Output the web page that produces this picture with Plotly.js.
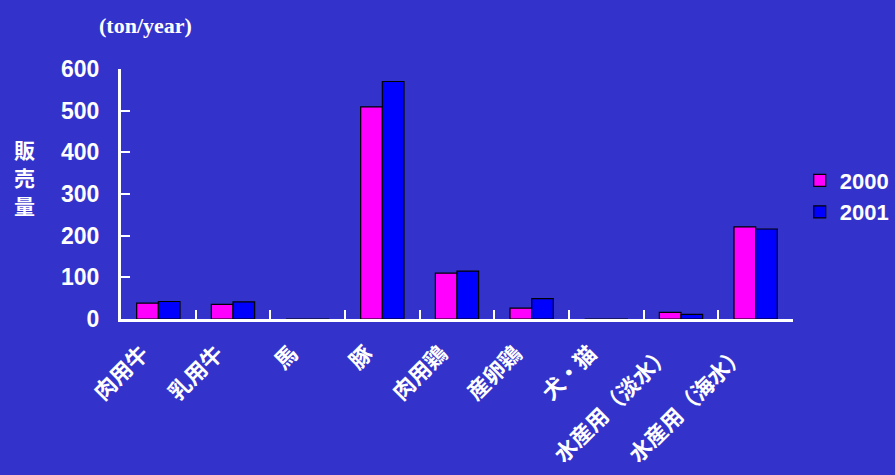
<!DOCTYPE html>
<html><head><meta charset="utf-8">
<script src="https://cdn.plot.ly/plotly-3.0.1.min.js"></script>
<style>html,body{margin:0;padding:0;background:#3333CC;}</style>
</head><body>
<div id="chart" style="width:895px;height:475px;"></div>
<script>
const categories = ["肉用牛","乳用牛","馬","豚","肉用鶏","産卵鶏","犬・猫","水産用（淡水）","水産用（海水）"];
const values2000 = [38, 35, 0, 509, 110, 26, 0, 16, 221];
const values2001 = [42, 41, 0, 570, 115, 49, 0, 11, 216];
const seriesNames = ["2000", "2001"];
const yTicks = [0, 100, 200, 300, 400, 500, 600];
const yTitleChars = ["販", "売", "量"];

const font = "Liberation Sans, Arial, Noto Sans CJK JP, sans-serif";
const cjk = "Noto Sans CJK JP, sans-serif";
const traces = [
  {type:"bar", name:seriesNames[0], x:categories, y:values2000,
   marker:{color:"#FF00FF", line:{color:"#000000", width:1.2}}},
  {type:"bar", name:seriesNames[1], x:categories, y:values2001,
   marker:{color:"#0000FF", line:{color:"#000000", width:1.2}}}
];
const annotations = [
  {text:"(ton/year)", xref:"paper", yref:"paper", x:0.037, y:1.176, xanchor:"center", yanchor:"middle",
   showarrow:false, font:{family:"Liberation Serif, Times New Roman, serif", size:22, color:"#FFFFFF", weight:"bold"}}
];
const yTitleY = [149, 177, 205];
yTitleChars.forEach((c, i) => {
  annotations.push({text:c, xref:"paper", yref:"paper", x:(24-121)/672, y:(319-yTitleY[i])/250,
    xanchor:"center", yanchor:"middle", showarrow:false,
    font:{family:cjk, size:21, color:"#FFFFFF", weight:"bold"}});
});
const layout = {
  width:895, height:475,
  paper_bgcolor:"#3333CC", plot_bgcolor:"#3333CC",
  margin:{l:121, r:102, t:69, b:156, autoexpand:false},
  barmode:"group", bargap:0.42, bargroupgap:0,
  font:{family:font, color:"#FFFFFF", size:18, weight:"bold"},
  xaxis:{type:"category", showline:true, linecolor:"#FFFFFF", linewidth:3,
    ticks:"inside", tickson:"boundaries", ticklen:9, tickwidth:2, tickcolor:"#FFFFFF",
    tickangle:-45, tickfont:{family:cjk, size:22, color:"#FFFFFF", weight:"bold"},
    ticklabelstandoff:10, ticklabelshift:-16,
    showgrid:false, zeroline:false, fixedrange:true, automargin:false},
  yaxis:{range:[0,600], tickvals:yTicks, ticktext:yTicks.map(String),
    showline:true, linecolor:"#FFFFFF", linewidth:3,
    ticks:"inside", ticklen:9, tickwidth:2, tickcolor:"#FFFFFF",
    tickfont:{family:font, size:23, color:"#FFFFFF", weight:"bold"},
    ticklabelstandoff:14, showgrid:false, zeroline:false, fixedrange:true, automargin:false},
  legend:{x:1.01, y:0.49, xanchor:"left", yanchor:"middle",
    font:{family:font, size:22, color:"#FFFFFF", weight:"bold"},
    bgcolor:"rgba(0,0,0,0)", itemwidth:30},
  showlegend:true,
  annotations:annotations
};
Plotly.newPlot("chart", traces, layout, {displayModeBar:false, staticPlot:true});
</script>
</body></html>
